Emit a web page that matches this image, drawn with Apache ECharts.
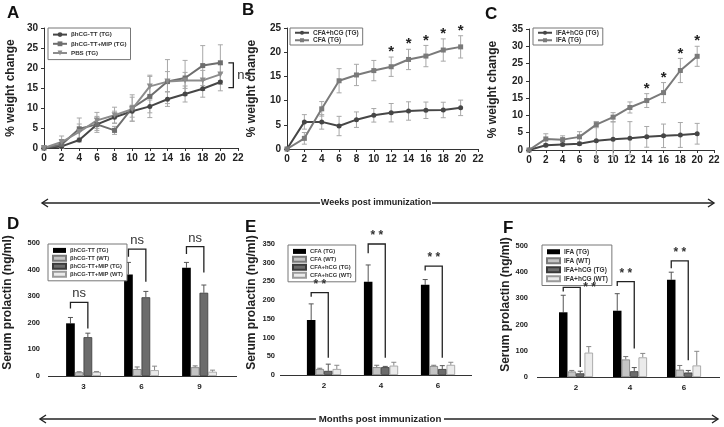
<!DOCTYPE html>
<html><head><meta charset="utf-8">
<script src="https://cdn.jsdelivr.net/npm/echarts@6/dist/echarts.min.js"></script>
<style>html,body{margin:0;padding:0;background:#fff}#c{width:724px;height:427px}</style>
</head><body><div id="c"></div>
<script>
// ---------- data ----------
const weeks = [0,2,4,6,8,10,12,14,16,18,20];
// Panel A
const aHcgTT      = [0,0.4,2.0,5.9,7.7,9.2,10.4,12.2,13.5,14.8,16.5];
const aHcgTTErr   = [0,0.5,0.5,1.5,1.5,1.5,1.6,1.8,2.0,2.1,2.2];
const aHcgMip     = [0,0.9,4.8,5.9,4.4,10.0,12.9,16.6,17.5,20.6,21.3];
const aHcgMipErr  = [0,1.0,2.7,2.0,1.0,3.3,5.3,5.5,4.4,5.0,4.5];
const aPbs        = [0,1.5,4.0,6.9,8.2,9.7,15.4,16.6,16.9,16.9,18.4];
const aPbsErr     = [0,1.5,2.0,2.0,2.0,3.0,2.5,2.5,2.0,2.5,2.5];
const aNsRange    = [21.3,15.1];
// Panel B
const bCfaHcg     = [0,5.6,5.6,4.75,6.06,6.96,7.5,7.85,8.0,8.06,8.5];
const bCfaHcgErr  = [0,1.5,1.5,2.0,1.6,1.4,1.9,1.9,1.7,1.6,1.6];
const bCfa        = [0,2.2,8.3,14.1,15.3,16.2,17.0,18.5,19.2,20.45,21.1];
const bCfaErr     = [0,1.2,1.5,2.5,2.2,2.1,2.0,2.1,2.2,2.3,2.3];
const bSigWeeks   = [12,14,16,18,20];
// Panel C
const cIfaHcg     = [0,1.35,1.6,1.8,2.7,3.1,3.4,3.8,4.1,4.35,4.7];
const cIfaHcgErr  = [0,0.4,0.4,0.4,5.5,5.0,4.8,3.0,3.4,3.6,3.0];
const cIfa        = [0,3.2,3.0,3.8,7.35,9.5,12.3,14.3,16.6,23.0,27.1];
const cIfaErr     = [0,1.5,1.1,1.5,0.9,1.3,1.6,2.0,2.9,3.5,2.9];
const cSigWeeks   = [14,16,18,20];
// Panel D
const dMonths     = ['3','6','9'];
const dTtTg       = [198,382,407];  const dTtTgErr  = [22,45,20];
const dTtWt       = [14,26,33];     const dTtWtErr  = [2,8,5];
const dMipTg      = [146,296,313];  const dMipTgErr = [15,22,29];
const dMipWt      = [15,22,16];     const dMipWtErr = [2,15,6];
const dBrackets   = [[0,277,254,179],[1,477,448,354],[2,486,459,389]]; // [group, top, left end, right end]
// Panel E
const eMonths     = ['2','4','6'];
const eCfaTg      = [147,249,241];  const eCfaTgErr = [43,45,14];
const eCfaWt      = [16,21,24];     const eCfaWtErr = [2,5,2];
const eHcgTg      = [11,21,16];     const eHcgTgErr = [18,2,9];
const eHcgWt      = [16,25,27];     const eHcgWtErr = [10,9,7];
const eBrackets   = [[0,220,209,46],[1,350,325,46],[2,291,279,46]];
// Panel F
const fMonths     = ['2','4','6'];
const fIfaTg      = [247,253,371];  const fIfaTgErr = [65,65,29];
const fIfaWt      = [21,67,28];     const fIfaWtErr = [4,11,16];
const fHcgTg      = [14,22,17];     const fHcgTgErr = [8,14,8];
const fHcgWt      = [93,75,44];     const fHcgWtErr = [23,15,54];
const fBrackets   = [[0,342,326,38],[1,364,347,109],[2,443,415,64]];

// ---------- helpers ----------
const FF = "'Liberation Sans', Arial, sans-serif";
const chart = echarts.init(document.getElementById('c'), null, {renderer:'canvas'});
const pairs = (xs, ys) => xs.map((x,i)=>[x, ys[i]]);

function lineSeries(g, name, ys, color, symbol, rotate){
  return {type:'line', name, xAxisIndex:g, yAxisIndex:g, data:pairs(weeks, ys),
    symbol, symbolSize: symbol==='triangle'?6:5, symbolRotate: rotate||0, z:3,
    lineStyle:{color, width:2}, itemStyle:{color}, animation:false};
}
function lineErr(g, ys, errs, color){
  return {type:'custom', xAxisIndex:g, yAxisIndex:g, silent:true, z:2, animation:false,
    encode:{x:0,y:1}, data: weeks.map((w,i)=>[w, ys[i], errs[i]]),
    renderItem(p, api){
      const x=api.value(0), y=api.value(1), e=api.value(2);
      if(!e) return null;
      const t=api.coord([x,y+e]), b=api.coord([x,y-e]), cw=2.5;
      const st={stroke:color, lineWidth:1};
      return {type:'group', children:[
        {type:'line', shape:{x1:t[0],y1:t[1],x2:b[0],y2:b[1]}, style:st},
        {type:'line', shape:{x1:t[0]-cw,y1:t[1],x2:t[0]+cw,y2:t[1]}, style:st},
        {type:'line', shape:{x1:b[0]-cw,y1:b[1],x2:b[0]+cw,y2:b[1]}, style:st}]};
    }};
}
function starSeries(g, sigWeeks, ys, errs){
  return {type:'custom', xAxisIndex:g, yAxisIndex:g, silent:true, z:4, animation:false,
    encode:{x:0,y:1}, data: sigWeeks.map(w=>{const i=weeks.indexOf(w); return [w, ys[i]+errs[i]];}),
    renderItem(p, api){
      const c=api.coord([api.value(0), api.value(1)]);
      return {type:'text', x:c[0], y:c[1]-5, style:{text:'*', fill:'#222', font:'bold 15px '+FF, align:'center', verticalAlign:'middle'}};
    }};
}
const BAR_GAP = [0.4, 0.4, 0.37];
function barSeries(g, name, vals, color, border, gap){
  return {type:'bar', name, xAxisIndex:g, yAxisIndex:g, data:vals, barGap:'0%',
    barCategoryGap:(gap*100)+'%', animation:false,
    itemStyle:{color, borderColor:border, borderWidth: border?0.8:0}};
}
function barErr(g, vals, errs, idx, gap, color){
  return {type:'custom', xAxisIndex:g, yAxisIndex:g, silent:true, z:1, animation:false,
    encode:{x:0,y:1}, data: vals.map((v,i)=>[i, v, errs[i]]),
    renderItem(p, api){
      const c=api.value(0), v=api.value(1), e=api.value(2);
      const band=api.size([1,0])[0], gw=band*(1-gap), bw=gw/4;
      const base=api.coord([c,v]), top=api.coord([c,v+e]);
      const x=base[0]-gw/2+(idx+0.5)*bw, cw=2.5;
      const st={stroke:color, lineWidth:1};
      return {type:'group', children:[
        {type:'line', shape:{x1:x,y1:base[1],x2:x,y2:top[1]}, style:st},
        {type:'line', shape:{x1:x-cw,y1:top[1],x2:x+cw,y2:top[1]}, style:st}]};
    }};
}
function bracketSeries(g, brackets, label, gap, labelSide){
  return {type:'custom', xAxisIndex:g, yAxisIndex:g, silent:true, z:5, animation:false,
    encode:{x:0,y:1}, data: brackets,
    renderItem(p, api){
      const c=api.value(0);
      const band=api.size([1,0])[0], gw=band*(1-gap), bw=gw/4;
      const cx=api.coord([c,0])[0]-gw/2;
      const x1=cx+0.5*bw, x2=cx+2.5*bw;
      const yT=api.coord([c,api.value(1)])[1], yL=api.coord([c,api.value(2)])[1], yR=api.coord([c,api.value(3)])[1];
      const side = labelSide ? labelSide[p.dataIndex] : 'top';
      const txt = side==='right'
        ? {type:'text', x:x2+3, y:yT, style:{text:label, fill:'#333', font:'bold 12px '+FF, align:'left', verticalAlign:'middle'}}
        : {type:'text', x:(x1+x2)/2, y:yT-2, style:{text:label, fill:'#333', font:(label==='ns'?'13px ':'bold 12px ')+FF, align:'center', verticalAlign:'bottom'}};
      return {type:'group', children:[
        {type:'polyline', shape:{points:[[x1,yL],[x1,yT],[x2,yT],[x2,yR]]}, style:{stroke:'#222', lineWidth:1.3, fill:null}},
        txt]};
    }};
}
function nsSeries(g, x, range){
  return {type:'custom', xAxisIndex:g, yAxisIndex:g, silent:true, z:5, animation:false,
    encode:{x:0,y:1}, data:[[x, range[0], range[1]]],
    renderItem(p, api){
      const t=api.coord([api.value(0), api.value(1)]), b=api.coord([api.value(0), api.value(2)]);
      const x0=t[0]+8, x1=t[0]+13;
      return {type:'group', children:[
        {type:'polyline', shape:{points:[[x0,t[1]],[x1,t[1]],[x1,b[1]],[x0,b[1]]]}, style:{stroke:'#222', lineWidth:1.3, fill:null}},
        {type:'text', x:x1+4, y:(t[1]+b[1])/2, style:{text:'ns', fill:'#333', font:'13px '+FF, align:'left', verticalAlign:'middle'}}]};
    }};
}

// ---------- layout ----------
const grids = [
  {left:44, top:28, width:194, height:120},
  {left:287, top:28, width:191, height:121},
  {left:529, top:29, width:185, height:121},
  {left:54.5, top:243, width:174, height:133},
  {left:295.5, top:244, width:171, height:131},
  {left:549, top:246, width:162, height:131}
];
const lineAxisLabel = {fontSize:10, fontWeight:'bold', color:'#222', fontFamily:FF};
const xAxes = [0,1,2].map(g=>({type:'value', gridIndex:g, min:0, max:22, interval:2,
  axisLine:{show:true, lineStyle:{color:'#333'}}, axisTick:{show:true, length:3, lineStyle:{color:'#333'}},
  splitLine:{show:false}, axisLabel:Object.assign({margin:5}, lineAxisLabel)}));
[dMonths, eMonths, fMonths].forEach((cats,i)=>xAxes.push({type:'category', gridIndex:3+i, data:cats,
  axisLine:{show:false}, axisTick:{show:false},
  axisLabel:{fontSize:8, fontWeight:'bold', color:'#222', fontFamily:FF, margin:7}}));
const yMax = [30,25,35,500,350,500], yInt=[5,5,5,100,50,100];
const nameGaps = [27,29,30,34,25,23];
const yAxes = yMax.map((m,g)=>{
  const isLine = g<3;
  const offs = [0,0,0,6.5,12.5,13];
  return {type:'value', gridIndex:g, min:0, max:m, interval:yInt[g], offset:offs[g],
    name: isLine ? '% weight change' : 'Serum prolactin (ng/ml)',
    nameLocation:'middle', nameGap:nameGaps[g],
    nameTextStyle:{fontSize:12, fontWeight:'bold', color:'#222', fontFamily:FF, padding: isLine?0:[0,0,0,14]},
    axisLine:{show:isLine, lineStyle:{color:'#333'}}, axisTick:{show:isLine, length:3, lineStyle:{color:'#333'}},
    splitLine:{show:false},
    axisLabel: isLine ? Object.assign({margin:6}, lineAxisLabel)
                      : {fontSize:7.5, fontWeight:'bold', color:'#222', fontFamily:FF, margin:8}};
});

const C1='#464646', C2='#6e6e6e', C3='#8c8c8c', EC='#a8a8a8';
const series = [
  lineErr(0, aHcgTT, aHcgTTErr, EC), lineErr(0, aHcgMip, aHcgMipErr, EC), lineErr(0, aPbs, aPbsErr, EC),
  lineSeries(0, 'βhCG-TT (TG)', aHcgTT, C1, 'circle'),
  lineSeries(0, 'βhCG-TT+MIP (TG)', aHcgMip, C2, 'rect'),
  lineSeries(0, 'PBS (TG)', aPbs, C3, 'triangle', 180),
  nsSeries(0, weeks[weeks.length-1], aNsRange),
  lineErr(1, bCfaHcg, bCfaHcgErr, EC), lineErr(1, bCfa, bCfaErr, EC),
  lineSeries(1, 'CFA+hCG (TG)', bCfaHcg, C1, 'circle'),
  lineSeries(1, 'CFA (TG)', bCfa, '#7a7a7a', 'rect'),
  starSeries(1, bSigWeeks, bCfa, bCfaErr),
  lineErr(2, cIfaHcg, cIfaHcgErr, EC), lineErr(2, cIfa, cIfaErr, EC),
  lineSeries(2, 'IFA+hCG (TG)', cIfaHcg, C1, 'circle'),
  lineSeries(2, 'IFA (TG)', cIfa, '#7a7a7a', 'rect'),
  starSeries(2, cSigWeeks, cIfa, cIfaErr)
];
const BLACK='#000', WT='#c4c4c4', DK='#6c6c6c', VL='#ebebeb';
const BWT='#7a7a7a', BDK='#3a3a3a', BVL='#9a9a9a';
function barPanel(g, prefix, names, vals, errs, brackets, label, labelSide){
  const gap = BAR_GAP[g-3];
  const cols=[BLACK,WT,DK,VL], bords=[null,BWT,BDK,BVL], ecol=['#555','#777','#555','#888'];
  names.forEach((n,i)=>series.push(barSeries(g, prefix+n, vals[i], cols[i], bords[i], gap)));
  names.forEach((n,i)=>series.push(barErr(g, vals[i], errs[i], i, gap, ecol[i])));
  series.push(bracketSeries(g, brackets, label, gap, labelSide));
}
const dNames=['βhCG-TT (TG)','βhCG-TT (WT)','βhCG-TT+MIP (TG)','βhCG-TT+MIP (WT)'];
const eNames=['CFA (TG)','CFA (WT)','CFA+hCG (TG)','CFA+hCG (WT)'];
const fNames=['IFA (TG)','IFA (WT)','IFA+hCG (TG)','IFA+hCG (WT)'];
barPanel(3,'D ', dNames, [dTtTg,dTtWt,dMipTg,dMipWt], [dTtTgErr,dTtWtErr,dMipTgErr,dMipWtErr], dBrackets, 'ns');
barPanel(4,'E ', eNames, [eCfaTg,eCfaWt,eHcgTg,eHcgWt], [eCfaTgErr,eCfaWtErr,eHcgTgErr,eHcgWtErr], eBrackets, '* *');
barPanel(5,'F ', fNames, [fIfaTg,fIfaWt,fHcgTg,fHcgWt], [fIfaTgErr,fIfaWtErr,fHcgTgErr,fHcgWtErr], fBrackets, '* *', ['right','top','top']);

function legendBox(names, left, top, fs, gapPx, iw, ih, pad, fmt, icon){
  const o = {data:names, orient:'vertical', left, top, padding:pad, itemGap:gapPx,
    itemWidth:iw, itemHeight:ih, borderColor:'#777', borderWidth:1, backgroundColor:'#fff',
    selectedMode:false, formatter: fmt||null,
    textStyle:{fontSize:fs, fontWeight:'bold', color:'#333', fontFamily:FF, lineHeight:fs+1, padding:[0,0,0,-1]}};
  if(icon) o.icon = icon;
  return o;
}
const strip = n => n.slice(2);
const legends = [
  legendBox(['βhCG-TT (TG)','βhCG-TT+MIP (TG)','PBS (TG)'], 48, 28, 6.2, 2, 14, 6, [3,4,3,4]),
  legendBox(['CFA+hCG (TG)','CFA (TG)'], 290, 28, 6.5, 0, 14, 5, [1,4,1,4]),
  legendBox(['IFA+hCG (TG)','IFA (TG)'], 533, 28, 6.5, 0, 14, 5, [1,4,1,4]),
  legendBox(dNames.map(n=>'D '+n), 48, 244, 5.8, 1, 13, 5, [3,4,3,4], strip, 'rect'),
  legendBox(eNames.map(n=>'E '+n), 288, 245, 5.8, 1, 13, 5, [3,4,3,4], strip, 'rect'),
  legendBox(fNames.map(n=>'F '+n), 542, 245, 6.5, 1.5, 13, 5, [3,4,3,4], strip, 'rect')
];

function arrowLine(y, x0, t0, t1, x1){
  const st={stroke:'#222', lineWidth:1.4, fill:null};
  return [
    {type:'line', shape:{x1:x0,y1:y,x2:t0,y2:y}, style:st},
    {type:'line', shape:{x1:t1,y1:y,x2:x1,y2:y}, style:st},
    {type:'polyline', shape:{points:[[x0+6,y-4],[x0,y],[x0+6,y+4]]}, style:st},
    {type:'polyline', shape:{points:[[x1-6,y-4],[x1,y],[x1-6,y+4]]}, style:st}
  ];
}
// x-axis baselines of the bar panels (extend slightly past the category band, as in the figure)
function baseLine(x0, x1, y){
  return {type:'line', shape:{x1:x0,y1:y,x2:x1,y2:y}, style:{stroke:'#333', lineWidth:1}};
}
const letterStyle = t=>({text:t, font:'bold 17px '+FF, fill:'#111'});
const graphic = [
  ...arrowLine(203, 42, 320, 432, 714),
  ...arrowLine(419, 40, 316, 444, 718),
  baseLine(48, 237, 376.5), baseLine(280, 472, 375.5), baseLine(537, 720, 377.5),
  {type:'text', x:376, y:203, style:{text:'Weeks post immunization', font:"bold 9px 'Liberation Sans', Arial", fill:'#222', align:'center', verticalAlign:'middle'}},
  {type:'text', x:380, y:419, style:{text:'Months post immunization', font:"bold 9.7px 'Liberation Sans', Arial", fill:'#222', align:'center', verticalAlign:'middle'}},
  {type:'text', x:7, y:5, style:letterStyle('A')},
  {type:'text', x:242, y:2, style:letterStyle('B')},
  {type:'text', x:485, y:6, style:letterStyle('C')},
  {type:'text', x:7, y:216, style:letterStyle('D')},
  {type:'text', x:245, y:219, style:letterStyle('E')},
  {type:'text', x:503, y:220, style:letterStyle('F')}
];

chart.setOption({
  animation:false,
  textStyle:{fontFamily:FF},
  grid:grids, xAxis:xAxes, yAxis:yAxes, series, legend:legends, graphic
});
</script></body></html>
